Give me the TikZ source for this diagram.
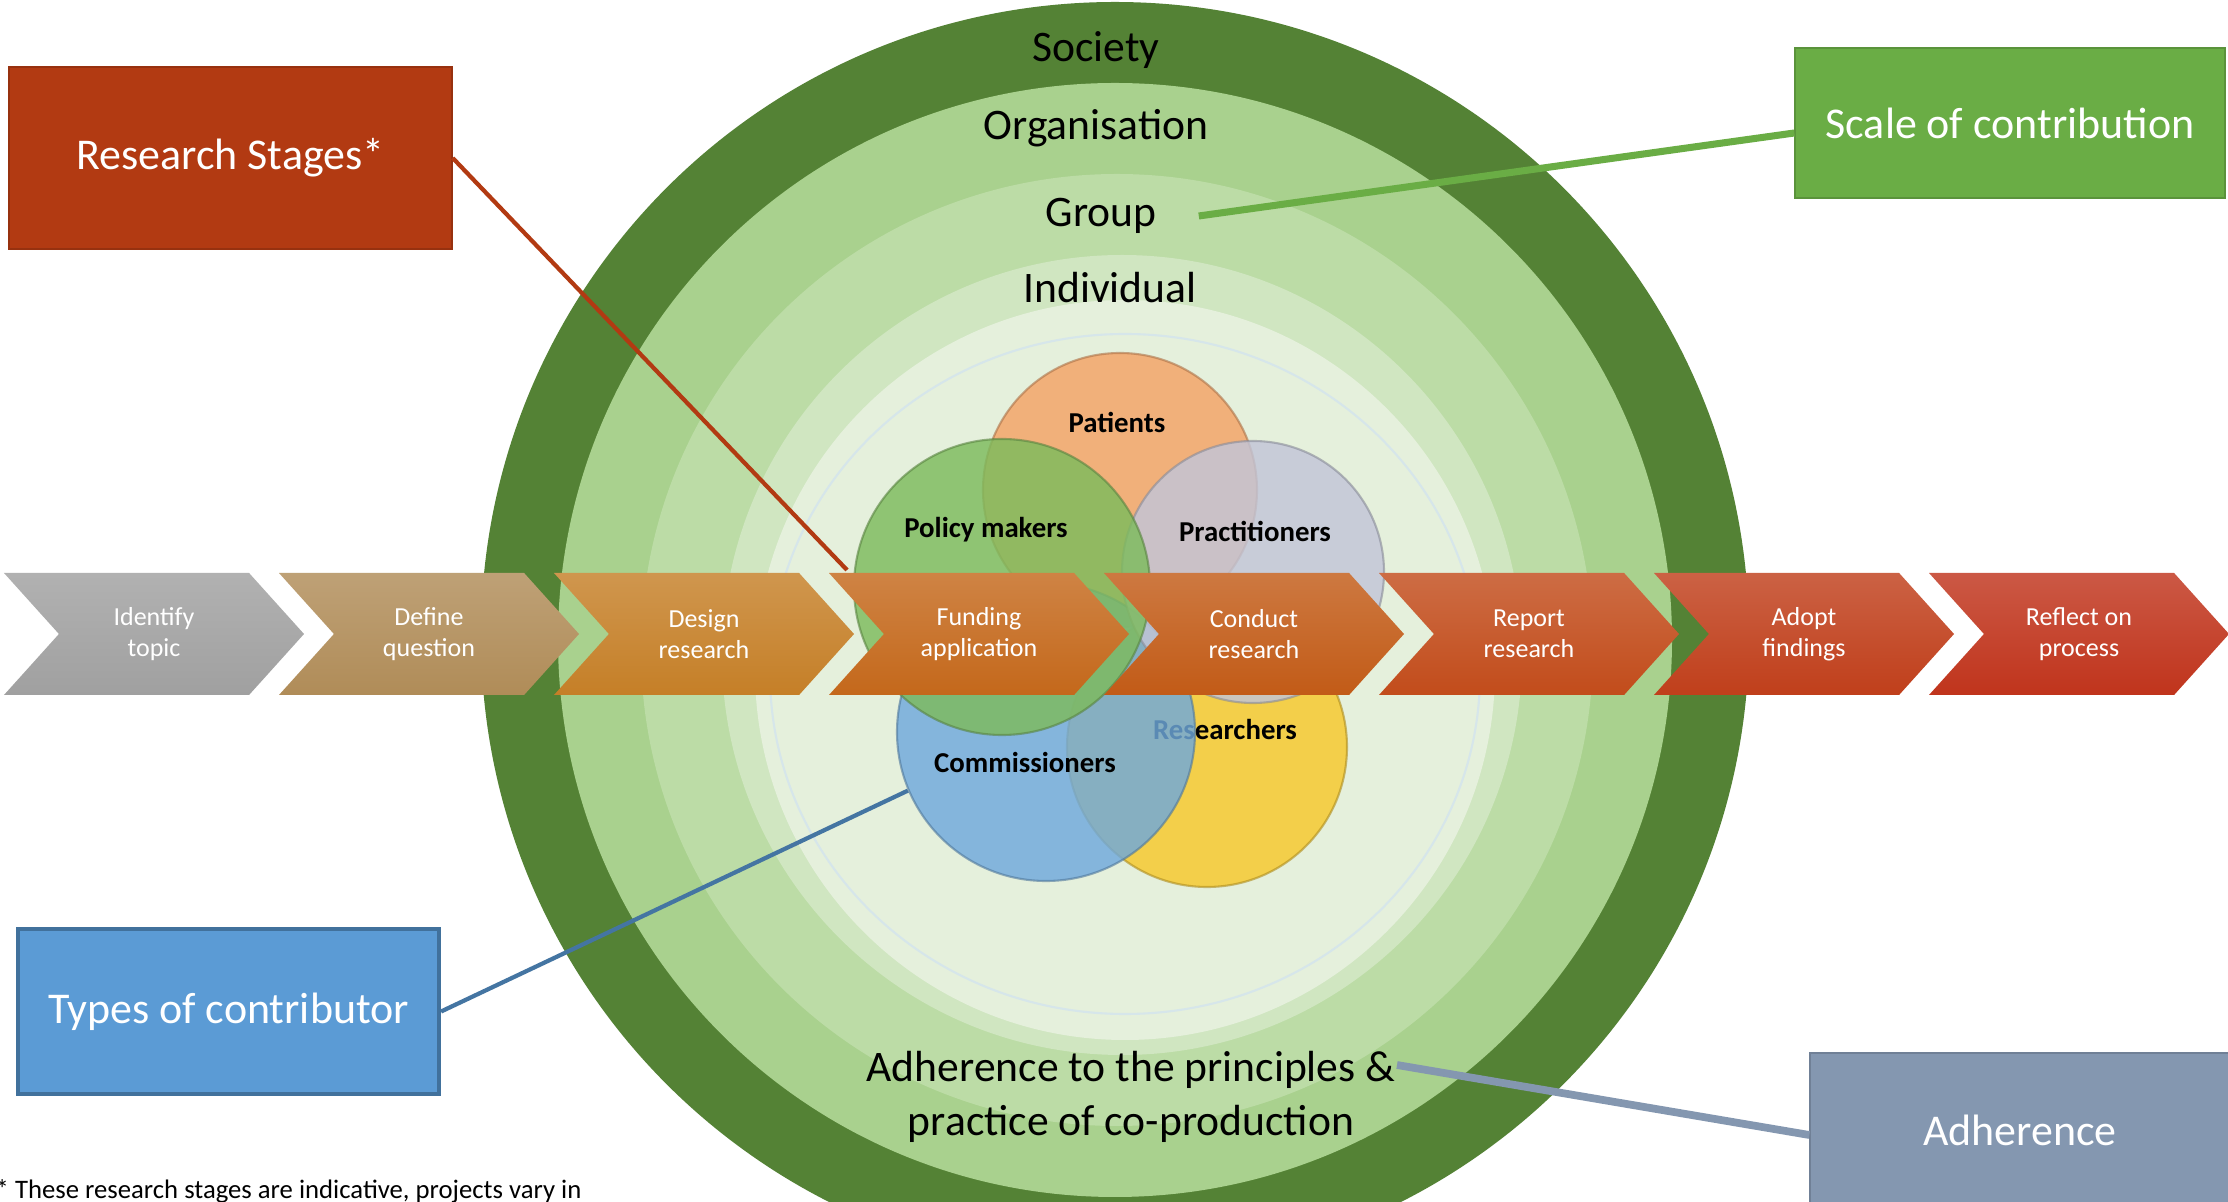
\documentclass[tikz,border=0pt]{standalone}
\usepackage{fontspec}
\setmainfont{Carlito}
\usetikzlibrary{shapes.symbols,positioning}

\definecolor{societyc}{HTML}{548235}
\definecolor{organisationc}{HTML}{A9D18E}
\definecolor{groupc}{HTML}{BCDCA6}
\definecolor{individualc}{HTML}{D0E6C1}
\definecolor{corec}{HTML}{E5F0DC}
\definecolor{rimc}{HTML}{D6E6EA}
\definecolor{patientc}{HTML}{F4A265}
\definecolor{policyc}{HTML}{7DBB5C}
\definecolor{practitionerc}{HTML}{C2C5D8}
\definecolor{commissionerc}{HTML}{6FA9DC}
\definecolor{researcherc}{HTML}{F7C82A}
\definecolor{identifyc}{HTML}{A0A0A0}
\definecolor{definec}{HTML}{B08C58}
\definecolor{designc}{HTML}{C57F27}
\definecolor{fundingc}{HTML}{C4681B}
\definecolor{conductc}{HTML}{C25B17}
\definecolor{reportc}{HTML}{C24C1B}
\definecolor{adoptc}{HTML}{C03F1B}
\definecolor{reflectc}{HTML}{C0341C}
\definecolor{stagesred}{HTML}{B23A12}
\definecolor{scalegreen}{HTML}{6AAD45}
\definecolor{typesblue}{HTML}{5B9BD5}
\definecolor{typesrim}{HTML}{41719C}
\definecolor{adhgrey}{HTML}{8497B0}

\tikzset{
  chevron/.style={signal, signal to=east, signal from=west, signal pointer angle=96,
    minimum width=3cm, minimum height=1.22cm, inner sep=0pt, text=white, align=center,
    font=\fontsize{7.4}{8.9}\selectfont, top color=#1!82!white, bottom color=#1},
  keybox/.style={fill=#1, draw=#1!85!black, text=white, inner sep=0pt,
    font=\fontsize{12.5}{15}\selectfont},
  ringtext/.style={font=\fontsize{12.4}{15.3}\selectfont},
  party/.style={circle, inner sep=0pt, fill=#1, draw=#1!70!black, fill opacity=0.82,
    draw opacity=0.6, line width=0.6pt},
  who/.style={font=\bfseries\fontsize{8.2}{10}\selectfont}
}

\begin{document}
\begin{tikzpicture}[node distance=2.75cm]
\useasboundingbox[fill=white] (0,0) rectangle (22.28,-12.02);
% scale of contribution, outside in
\fill[societyc] (11.15,-6.36) circle (6.34);
\fill[organisationc] (11.15,-6.40) circle (5.57);
\fill[groupc] (11.17,-6.50) circle (4.76);
\fill[individualc] (11.22,-6.55) circle (4.00);
\fill[corec] (11.25,-6.70) circle (3.70);
\draw[rimc, line width=0.6pt] (11.25,-6.74) ellipse (3.55 and 3.40);
\node (society) [ringtext] at (10.96,-0.50) {Society};
\node (organisation) [ringtext] at (10.96,-1.28) {Organisation};
\node (group) [ringtext] at (11.01,-2.16) {Group};
\node (individual) [ringtext] at (11.10,-2.88) {Individual};
\node (principles) [ringtext, align=center] at (11.31,-10.97) {Adherence to the principles \&\\practice of co-production};

% contributors
\node (patients) [party=patientc, minimum size=2.74cm] at (11.20,-4.90) {};
\node (researchers) [party=researcherc, minimum size=2.80cm] at (12.07,-7.47) {};
\node (researcherstext) [who] at (12.25,-7.30) {Researchers};
\node (commissioners) [party=commissionerc, minimum size=2.98cm] at (10.46,-7.32) {};
\node (practitioners) [party=practitionerc, minimum size=2.62cm] at (12.53,-5.72) {};
\node (policy) [party=policyc, minimum size=2.96cm] at (10.02,-5.87) {};
\node (patientstext) [who] at (11.17,-4.22) {Patients};
\node (policytext) [who] at (9.86,-5.30) {Policy makers};
\node (practitionerstext) [who] at (12.55,-5.31) {Practitioners};
\node (commissionerstext) [who] at (10.25,-7.63) {Commissioners};

% research stages
\node (identify) [chevron=identifyc] at (1.54,-6.34) {Identify\\topic};
\node (define) [chevron=definec, right of=identify] {Define\\question};
\node (design) [chevron=designc, right of=define] {Design\\research};
\node (funding) [chevron=fundingc, right of=design] {Funding\\application};
\node (conduct) [chevron=conductc, right of=funding] {Conduct\\research};
\node (report) [chevron=reportc, right of=conduct] {Report\\research};
\node (adopt) [chevron=adoptc, right of=report] {Adopt\\findings};
\node (reflect) [chevron=reflectc, right of=adopt] {Reflect on\\process};

% keys
\node (stages) [keybox=stagesred, minimum width=4.43cm, minimum height=1.82cm] at (2.305,-1.58) {Research Stages*};
\node (scale) [keybox=scalegreen, minimum width=4.30cm, minimum height=1.50cm] at (20.10,-1.23) {Scale of contribution};
\node (types) [keybox=typesblue, draw=typesrim, line width=1.2pt, minimum width=4.21cm, minimum height=1.65cm] at (2.285,-10.115) {Types of contributor};
\node (adherence) [keybox=adhgrey, minimum width=4.20cm, minimum height=1.54cm] at (20.20,-11.30) {Adherence};
\node (note) [anchor=base west, font=\fontsize{7.6}{9}\selectfont, inner sep=0pt] at (-0.05,-11.99) {* These research stages are indicative, projects vary in};

\coordinate (stagestip) at (8.47,-5.70);
\coordinate (adhtip) at (13.97,-10.65);
\draw[stagesred, line width=1.2pt] (stages.east) -- (stagestip);
\draw[scalegreen, line width=2pt] ([yshift=-1mm]scale.west) -- ([xshift=3mm]group.east);
\draw[typesrim!90!typesblue, line width=1.2pt] (types.east) -- (commissioners.203);
\draw[adhgrey, line width=2.2pt] (adhtip) -- ([yshift=-0.5mm]adherence.west);
\end{tikzpicture}
\end{document}
